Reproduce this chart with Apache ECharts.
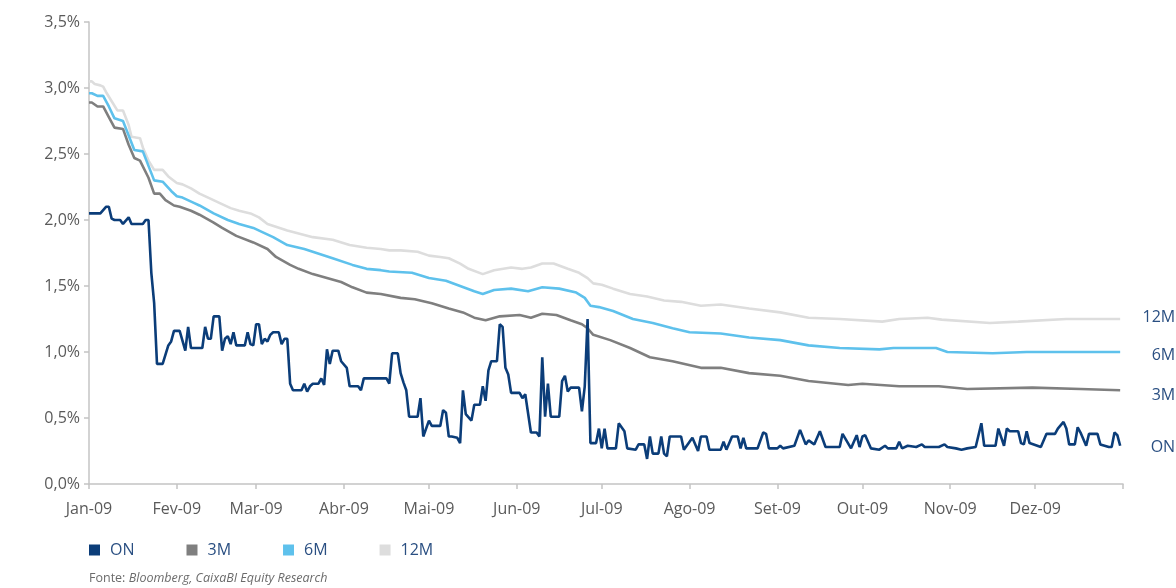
<!DOCTYPE html>
<html>
<head>
<meta charset="utf-8">
<title>Euribor 2009</title>
<script src="https://cdn.jsdelivr.net/npm/echarts@6/dist/echarts.min.js"></script>
<style>
  html, body { margin: 0; padding: 0; background: #ffffff; }
  #chart { width: 1176px; height: 588px; }
</style>
</head>
<body>
<div id="chart"></div>
<script>
// Taxas de juro 2009: x = dia do ano (0 = 1 Jan 2009), y = taxa em %
const monthLabels = ['Jan-09', 'Fev-09', 'Mar-09', 'Abr-09', 'Mai-09', 'Jun-09',
  'Jul-09', 'Ago-09', 'Set-09', 'Out-09', 'Nov-09', 'Dez-09', ''];
const monthStarts = [0, 31, 59, 90, 120, 151, 181, 212, 243, 273, 304, 334, 365];
const yTicks = [0, 0.5, 1, 1.5, 2, 2.5, 3, 3.5];
const seriesNames = ['ON', '3M', '6M', '12M'];

const rateON = [
  [0, 2.05], [4, 2.05], [6, 2.10], [7, 2.10], [8, 2.01], [9, 2.00], [11, 2.00], [12, 1.97],
  [14, 2.02], [15, 1.97], [19, 1.97], [20, 2.00], [21, 2.00], [22, 1.60], [23, 1.37], [24, 0.91],
  [26, 0.91], [28, 1.05], [29, 1.08], [30, 1.16], [32, 1.16], [34, 1.01], [35, 1.19], [36, 1.03],
  [40, 1.03], [41, 1.19], [42, 1.10], [43, 1.10], [44, 1.27], [46, 1.27], [47, 1.01], [48, 1.10],
  [49, 1.12], [50, 1.06], [51, 1.15], [52, 1.05], [55, 1.05], [56, 1.15], [57, 1.06], [58, 1.05],
  [59, 1.21], [60, 1.21], [61, 1.06], [62, 1.10], [63, 1.08], [64, 1.13], [65, 1.15], [67, 1.15],
  [68, 1.06], [69, 1.10], [70, 1.10], [71, 0.76], [72, 0.71], [75, 0.71], [76, 0.76], [77, 0.70],
  [78, 0.74], [79, 0.76], [81, 0.76], [82, 0.80], [83, 0.75], [84, 1.02], [85, 0.91], [86, 1.01],
  [88, 1.01], [89, 0.93], [91, 0.88], [92, 0.74], [95, 0.74], [96, 0.71], [97, 0.80], [105, 0.80],
  [106, 0.76], [107, 0.99], [109, 0.99], [110, 0.84], [111, 0.77], [112, 0.71], [113, 0.51], [116, 0.51],
  [117, 0.65], [118, 0.36], [120, 0.48], [121, 0.44], [124, 0.44], [125, 0.56], [126, 0.54], [127, 0.36],
  [128, 0.36], [130, 0.35], [131, 0.31], [132, 0.71], [133, 0.53], [135, 0.48], [136, 0.60], [138, 0.60],
  [139, 0.74], [140, 0.63], [141, 0.86], [142, 0.93], [144, 0.93], [145, 1.21], [146, 1.19], [147, 0.88],
  [148, 0.83], [149, 0.69], [152, 0.69], [153, 0.65], [154, 0.68], [156, 0.39], [158, 0.39], [159, 0.36],
  [160, 0.96], [161, 0.51], [162, 0.76], [163, 0.51], [166, 0.51], [167, 0.78], [168, 0.82], [169, 0.70],
  [170, 0.73], [173, 0.73], [174, 0.55], [175, 0.74], [176, 1.25], [177, 0.31], [179, 0.31], [180, 0.42],
  [181, 0.27], [182, 0.42], [183, 0.27], [186, 0.27], [187, 0.46], [189, 0.40], [190, 0.27], [193, 0.26],
  [194, 0.30], [196, 0.30], [197, 0.19], [198, 0.36], [199, 0.23], [201, 0.23], [202, 0.36], [203, 0.23],
  [204, 0.21], [205, 0.36], [209, 0.36], [210, 0.26], [211, 0.29], [213, 0.35], [215, 0.25], [216, 0.36],
  [218, 0.36], [219, 0.26], [223, 0.26], [224, 0.32], [225, 0.26], [227, 0.36], [229, 0.36], [230, 0.27],
  [231, 0.35], [232, 0.27], [236, 0.27], [238, 0.39], [239, 0.38], [240, 0.27], [243, 0.27], [244, 0.29],
  [245, 0.27], [249, 0.29], [251, 0.41], [253, 0.30], [254, 0.33], [256, 0.30], [258, 0.40], [260, 0.28],
  [265, 0.28], [266, 0.38], [269, 0.27], [271, 0.37], [272, 0.28], [273, 0.36], [274, 0.37], [276, 0.27],
  [279, 0.26], [281, 0.29], [282, 0.27], [285, 0.27], [286, 0.32], [287, 0.27], [289, 0.29], [292, 0.28],
  [294, 0.30], [295, 0.28], [300, 0.28], [302, 0.30], [303, 0.28], [306, 0.27], [308, 0.26], [310, 0.27],
  [313, 0.28], [315, 0.46], [316, 0.29], [320, 0.29], [321, 0.42], [323, 0.29], [324, 0.42], [325, 0.40],
  [328, 0.40], [329, 0.31], [330, 0.30], [331, 0.40], [332, 0.31], [336, 0.28], [338, 0.38], [341, 0.38],
  [342, 0.42], [344, 0.47], [345, 0.42], [346, 0.30], [348, 0.30], [349, 0.43], [350, 0.39], [352, 0.29],
  [353, 0.38], [356, 0.38], [357, 0.30], [360, 0.28], [361, 0.28], [362, 0.39], [363, 0.37], [364, 0.29]
];

const rate3M = [
  [0, 2.89], [1, 2.89], [3, 2.86], [5, 2.86], [7, 2.78], [9, 2.70], [12, 2.69], [14, 2.57],
  [16, 2.47], [18, 2.45], [21, 2.32], [23, 2.20], [25, 2.20], [27, 2.15], [30, 2.11], [32, 2.10],
  [36, 2.07], [39, 2.04], [44, 1.98], [47, 1.94], [52, 1.88],
  [58, 1.83], [63, 1.78], [66, 1.72], [71, 1.66], [74, 1.63], [79, 1.59], [84, 1.56], [89, 1.53],
  [93, 1.49], [98, 1.45], [103, 1.44], [110, 1.41], [115, 1.40], [121, 1.37], [127, 1.33], [132, 1.30],
  [136, 1.26], [140, 1.24], [145, 1.27], [152, 1.28], [156, 1.26], [160, 1.29], [165, 1.28], [170, 1.24],
  [174, 1.21], [176, 1.18], [178, 1.13], [184, 1.09], [191, 1.03], [198, 0.96], [206, 0.93], [216, 0.88],
  [223, 0.88], [233, 0.84], [244, 0.82], [254, 0.78], [268, 0.75], [273, 0.76], [286, 0.74], [300, 0.74],
  [310, 0.72], [333, 0.73], [350, 0.72], [364, 0.71]
];

const rate6M = [
  [0, 2.96], [1, 2.96], [3, 2.94], [5, 2.94], [7, 2.86], [9, 2.77], [12, 2.75], [14, 2.64],
  [16, 2.53], [19, 2.52], [21, 2.41], [23, 2.30], [26, 2.29], [29, 2.22], [31, 2.18], [33, 2.17],
  [37, 2.13], [39, 2.11], [44, 2.05], [49, 2.00], [53, 1.97],
  [58, 1.94], [61, 1.91], [65, 1.87], [70, 1.81], [76, 1.78], [86, 1.71], [93, 1.66], [98, 1.63],
  [103, 1.62], [106, 1.61], [114, 1.60], [120, 1.56], [126, 1.54], [131, 1.50], [136, 1.46], [139, 1.44],
  [143, 1.47], [149, 1.48], [155, 1.46], [160, 1.49], [166, 1.48], [172, 1.45], [175, 1.41], [177, 1.35],
  [180, 1.34], [185, 1.31], [192, 1.25], [199, 1.22], [206, 1.18], [212, 1.15], [223, 1.14], [233, 1.11],
  [244, 1.09], [254, 1.05], [265, 1.03], [279, 1.02], [284, 1.03], [299, 1.03], [303, 1.00], [319, 0.99],
  [331, 1.00], [364, 1.00]
];

const rate12M = [
  [0, 3.05], [1, 3.05], [2, 3.03], [4, 3.02], [5, 3.01], [6, 2.97], [8, 2.90], [10, 2.83],
  [12, 2.83], [14, 2.72], [15, 2.63], [18, 2.62], [19, 2.55], [21, 2.45], [23, 2.38], [26, 2.38],
  [28, 2.33], [31, 2.28], [33, 2.27], [36, 2.24], [39, 2.20], [43, 2.16], [46, 2.13],
  [50, 2.09], [53, 2.07], [57, 2.05], [60, 2.02], [63, 1.97], [70, 1.92], [79, 1.87], [86, 1.85],
  [92, 1.81], [98, 1.79], [103, 1.78], [106, 1.77], [110, 1.77], [116, 1.76], [120, 1.73], [124, 1.72],
  [127, 1.71], [131, 1.67], [134, 1.63], [139, 1.59], [143, 1.62], [149, 1.64], [153, 1.63], [156, 1.64],
  [160, 1.67], [164, 1.67], [169, 1.63], [173, 1.60], [176, 1.56], [178, 1.52], [181, 1.51], [185, 1.48],
  [191, 1.44], [197, 1.42], [203, 1.39], [209, 1.38], [216, 1.35], [223, 1.36], [233, 1.33], [244, 1.30],
  [254, 1.26], [265, 1.25], [280, 1.23], [286, 1.25], [296, 1.26], [301, 1.245], [318, 1.22], [328, 1.23],
  [345, 1.25], [364, 1.25]
];

const palette = {
  ON: '#0b3d79',
  '3M': '#7f7f7f',
  '6M': '#5ec1ec',
  '12M': '#dddddd'
};
const textBlue = '#2a4f82';
const axisGrey = '#5a5a5a';
const fontFamily = '"Open Sans", "Noto Sans", sans-serif';

// vertical nudges for the end-of-line labels
const endLabelShift = { ON: 2, '3M': 5, '6M': 3, '12M': -2 };

function lineSeries(name, data, z) {
  return {
    name: name,
    type: 'line',
    data: data,
    z: z,
    symbol: 'none',
    smooth: false,
    lineStyle: { color: palette[name], width: 2.6 },
    itemStyle: { color: palette[name] },
    emphasis: { disabled: true },
    endLabel: {
      show: true,
      formatter: name,
      color: textBlue,
      fontSize: 16,
      fontFamily: fontFamily,
      align: 'right',
      distance: 5,
      offset: [50, endLabelShift[name]]
    }
  };
}

const chart = echarts.init(document.getElementById('chart'), null, { renderer: 'canvas' });

chart.setOption({
  animation: false,
  backgroundColor: '#ffffff',
  textStyle: { fontFamily: fontFamily },
  grid: { left: 89, right: 53, top: 22, bottom: 104, containLabel: false },
  legend: {
    data: seriesNames,
    left: 84,
    top: 537,
    icon: 'rect',
    itemWidth: 11,
    itemHeight: 11,
    itemGap: 52,
    textStyle: { color: textBlue, fontSize: 16, fontFamily: fontFamily, padding: [0, 0, 0, 5] }
  },
  xAxis: {
    type: 'value',
    min: 0,
    max: 365,
    axisLine: { show: true, lineStyle: { color: '#c4c4c4', width: 1.5 } },
    axisTick: {
      show: true, length: 5, customValues: monthStarts,
      lineStyle: { color: '#c4c4c4', width: 1.5 }
    },
    axisLabel: {
      customValues: monthStarts.slice(0, 12),
      formatter: function (v) { return monthLabels[monthStarts.indexOf(v)]; },
      color: axisGrey, fontSize: 16, fontFamily: fontFamily, margin: 17
    },
    splitLine: { show: false }
  },
  yAxis: {
    type: 'value',
    min: yTicks[0],
    max: yTicks[yTicks.length - 1],
    interval: 0.5,
    axisLine: { show: true, lineStyle: { color: '#c4c4c4', width: 1.5 } },
    axisTick: { show: true, length: 5, lineStyle: { color: '#c4c4c4', width: 1.5 } },
    axisLabel: {
      formatter: function (v) { return v.toFixed(1).replace('.', ',') + '%'; },
      color: axisGrey, fontSize: 16, fontFamily: fontFamily, margin: 9
    },
    splitLine: { show: false }
  },
  series: [
    lineSeries('12M', rate12M, 1),
    lineSeries('6M', rate6M, 2),
    lineSeries('3M', rate3M, 3),
    lineSeries('ON', rateON, 4)
  ],
  graphic: [{
    type: 'text',
    left: 89,
    top: 572,
    style: {
      text: '{a|Fonte:} {b|Bloomberg, CaixaBI Equity Research}',
      rich: {
        a: { fontSize: 12.5, fill: '#6b6b6b', fontFamily: fontFamily },
        b: { fontSize: 12.5, fill: '#6b6b6b', fontFamily: fontFamily, fontStyle: 'italic' }
      }
    }
  }]
});
</script>
</body>
</html>
